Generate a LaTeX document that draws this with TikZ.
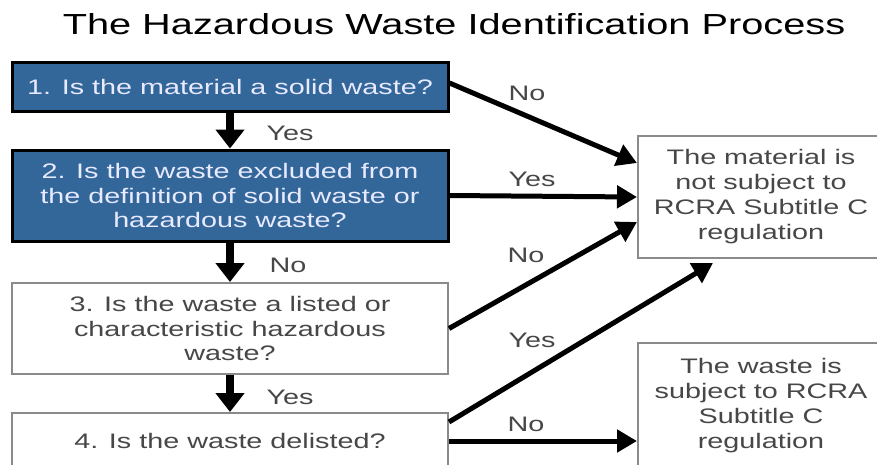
\documentclass[tikz,border=0pt]{standalone}
\usepackage{fontspec}
\setmainfont{Liberation Sans}[FakeStretch=1.37]
\usetikzlibrary{arrows.meta,calc}

\definecolor{stepblue}{HTML}{336699}
\definecolor{steptext}{HTML}{E8EAFF}
\definecolor{plaintext}{HTML}{474747}
\definecolor{boxgray}{HTML}{8A8A8A}

\tikzset{
  bluebox/.style={draw=black, line width=3pt, fill=stepblue, text=steptext,
    align=center, inner sep=0pt, font=\fontsize{21}{24.5}\selectfont},
  whitebox/.style={draw=boxgray, line width=2pt, fill=white, text=plaintext,
    align=center, inner sep=0pt, font=\fontsize{21}{24.5}\selectfont},
  outcome/.style={draw=boxgray, line width=2pt, fill=white, text=plaintext,
    align=center, inner sep=0pt, font=\fontsize{21}{25}\selectfont},
  answer/.style={text=plaintext, inner sep=0pt, font=\fontsize{21}{24}\selectfont},
  downarrow/.style={line width=8pt, -{Triangle[length=19pt,width=28pt]}},
  sidearrow/.style={line width=5pt, -{Triangle[length=20pt,width=22pt]}},
}

\begin{document}
\begin{tikzpicture}[x=1pt,y=-1pt]
  \useasboundingbox (0,0) rectangle (877,464);
  \clip (0,0) rectangle (877,464);
  \fill[white] (0,0) rectangle (877,464);

  % heading
  \node[anchor=base, text=black, inner sep=0pt, font=\fontsize{29}{32}\selectfont]
    (title) at (454,34) {The Hazardous Waste Identification Process};

  % question steps
  \node[bluebox, minimum width=436pt, minimum height=49pt] (q1) at (230,86.5)
    {1. Is the material a solid waste?};
  \node[bluebox, minimum width=436pt, minimum height=91pt] (q2) at (230,195.5)
    {2. Is the waste excluded from\\the definition of solid waste or\\hazardous waste?};
  \node[whitebox, minimum width=436pt, minimum height=91pt] (q3) at (230,328.5)
    {3. Is the waste a listed or\\characteristic hazardous\\waste?};
  \node[whitebox, minimum width=436pt, minimum height=56pt] (q4) at (230,441)
    {4. Is the waste delisted?};

  % outcomes
  \node[outcome, minimum width=246pt, minimum height=122pt] (notsub) at (761,197)
    {The material is\\not subject to\\RCRA Subtitle C\\regulation};
  \node[outcome, minimum width=246pt, minimum height=126pt] (sub) at (761,406)
    {The waste is\\subject to RCRA\\Subtitle C\\regulation};

  % flow down the questions
  \draw[downarrow] (q1.south) -- (q2.north);
  \draw[downarrow] (q2.south) -- (q3.north);
  \draw[downarrow] (q3.south) -- (q4.north);
  \node[answer] (a12) at (290,133) {Yes};
  \node[answer] (a23) at (288,265) {No};
  \node[answer] (a34) at (290,397) {Yes};

  % branches to the outcomes
  \coordinate (tip4) at ($(notsub.south west)+(76,4)$);
  \draw[sidearrow] ([yshift=3.5pt]q1.east) -- ([yshift=34pt]notsub.west);
  \draw[sidearrow] (q2.east) -- (notsub.west);
  \draw[sidearrow] (q3.east) -- ([yshift=-25pt]notsub.west);
  \draw[sidearrow] ([yshift=19pt]q4.east) -- (tip4);
  \draw[sidearrow] (q4.east) -- (sub.west |- q4.east);
  \node[answer] (b1) at (527,93) {No};
  \node[answer] (b2) at (532,179) {Yes};
  \node[answer] (b3) at (526,255) {No};
  \node[answer] (b4) at (532,340) {Yes};
  \node[answer] (b5) at (526,424) {No};
\end{tikzpicture}
\end{document}
